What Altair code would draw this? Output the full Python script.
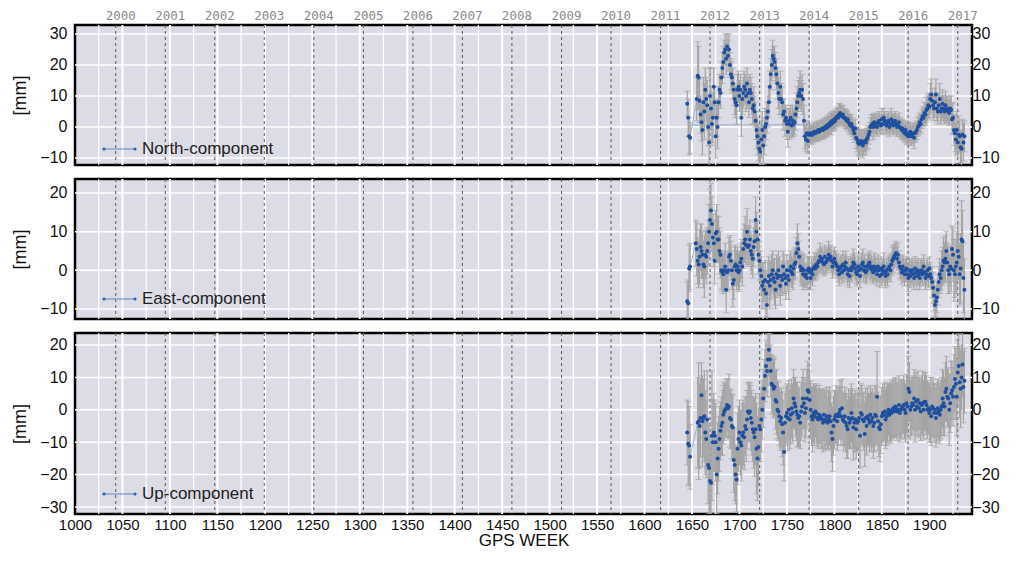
import altair as alt
import pandas as pd

# ---------------- data (GPS week of segment start, weekly values in mm, error half-widths in mm) -------------
north_starts = [1645, 1655, 1663, 1673, 1680, 1694, 1718, 1731, 1743, 1760, 1769, 1774, 1790, 1811, 1818,
                1836, 1846, 1871, 1889, 1903, 1926]
north_values = [
    [7.5, 3, -3, -3.5],
    [9, 16.5, 16, 8.5, 4, 1.5, -1, 8],
    [5, 12, 9, 7, 0, -5, 10, 6, 1, 3],
    [13, 8, -3, 3, 0, 8, 12],
    [11, 16, 19, 21, 24, 25, 22, 26, 23, 25, 20, 17, 16, 14],
    [12, 9, 8, 7, 12, 13, 10, 12, 3, 9, 11, 13, 12, 10, 14, 11, 8, 12, 11, 9, 6, 7, 5, 2],
    [-1, -3, -5, -7, -8, -4, -1, -6, -3, 0, 1, 3, 5],
    [8, 13, 17, 20, 23, 22, 21, 19, 17, 14, 11, 9],
    [13, 9, 8, 4, 5, 2, 3, 1, -1.5, 2, 1, 3, 0.5, 2, 1, 1.5, 4],
    [6, 8, 10, 11, 12, 10, 12, 9, 2],
    [-3, -4, -2, -4.5, -2.5],
    [-2, -2.5, -2, -2.5, -2, -1.5, -2, -1.5, -1.5, -1, -1.5, -1, -1, -0.5, -1, -0.5],
    [0, -0.5, 0.5, 0, 1, 0.5, 1.5, 1, 2, 1.5, 2.5, 2, 3, 3.5, 3, 4, 4.5, 4, 3.5, 4, 3],
    [3, 2.5, 2, 2.5, 1.5, 1, 0.5],
    [1, 0, -1, -2, -0.5, -3.5, -4, -5, -5.5, -5, -4.5, -5, -6, -5, -4.5, -5, -4, -3.5],
    [-2.5, -1.5, 0, 0.5, 1, 0, 1.5, 0.5, 1, 0],
    [1.5, 2, 1, 0.5, 2.5, 1, 3, 2, 1, 0.5, 1.5, 2, 0, 1, 2.5, 1.5, 0.5, 1, 2, 1, 0, 0.5, 1.5, 0, -0.5],
    [-1, -0.5, -1.5, -2, -1, -2.5, -2, -3, -2, -1.5, -3, -2.5, -2, -3.5, -2, -1.5, -1, 0],
    [0.5, 1.5, 1, 2.5, 3.5, 3, 4.5, 4, 5.5, 6, 7, 6.5, 9, 10.5],
    [8.5, 7, 6, 8, 10.5, 6, 5, 7, 9, 5, 6, 7.5, 6, 5, 7, 5.5, 6, 5, 4.5, 6, 5.5, 2.5, 3],
    [-1, -2, -4, -1, -5, -2.5, -3, -6.5, -7, -2.5, -5, -3],
]
north_errors = [
    [4, 6, 6, 5],
    [7, 11, 10, 7, 6, 6, 8, 8],
    [9, 7, 7, 8, 6, 9, 9, 7, 7, 8],
    [6, 5, 7, 6, 7, 5, 5],
    [5, 5, 5, 5, 4, 5, 5, 4, 5, 5, 4, 5, 5, 5],
    [5, 5, 5, 6, 5, 5, 5, 5, 6, 5, 5, 5, 5, 5, 5, 5, 5, 5, 5, 5, 5, 6, 5, 6],
    [6, 6, 6, 7, 6, 6, 6, 6, 6, 6, 5, 5, 5],
    [5, 5, 5, 5, 5, 4, 5, 5, 5, 5, 5, 5],
    [5, 5, 5, 5, 4, 5, 4, 5, 5, 4, 5, 4, 4, 5, 4, 4, 5],
    [5, 5, 5, 5, 6, 5, 5, 5, 5],
    [4, 4, 4, 4, 3],
    [3, 3, 2.5, 3, 3, 3, 2.5, 3, 3, 3, 3, 2.5, 3, 3, 3, 3],
    [3, 3, 3, 3, 3, 3, 3, 3.5, 3, 3, 3, 3, 3, 3, 3, 3.5, 3, 3, 3, 3, 3],
    [3, 3, 3, 3, 3, 3, 3],
    [3, 3, 3, 3, 3, 3.5, 4, 4, 4, 4, 3.5, 4, 4, 4, 3.5, 4, 3.5, 3.5],
    [3, 3, 3, 3.5, 3, 4, 3, 3, 3, 3],
    [3, 3, 3, 3, 3.5, 3, 3, 3, 3, 3, 3, 3, 3, 3, 3.5, 3, 3, 3, 3, 3, 3, 3, 3, 3, 3],
    [3, 3, 3, 3, 3, 3, 3.5, 3, 3, 3, 3, 3, 3, 3.5, 3, 3, 3, 3],
    [3, 3, 3, 3, 3, 3, 3.5, 3.5, 4, 4, 4, 4, 5, 5],
    [4, 4, 4, 4.5, 5, 4, 4, 4, 5, 4, 4, 4.5, 4, 4, 4.5, 4, 4, 4, 4, 4, 4.5, 5, 5],
    [5, 6, 5, 6, 5, 6, 5, 5, 6, 5, 6, 5],
]

east_starts = [1645, 1654, 1659, 1667, 1673, 1680, 1690, 1704, 1722, 1743, 1759, 1769, 1790, 1804, 1818,
               1836, 1861, 1875, 1903, 1913, 1924]
east_values = [
    [-8, -8.5, 0.5, 1],
    [7, 5.5, 2.5, 1.5, 3.5],
    [6, 5, 4, 1.5, 1, 4, 3.5, 5],
    [7, 10, 13, 15.5, 12, 8.5],
    [7, 2.5, 9.5, 10, 8, 8, 5],
    [4, 0, -0.5, -1, 0, 1, -5, -0.5, 0, 3.5],
    [4, 2.5, 0, -3.5, -2.5, 1, 1.5, 0, 1, -0.5, 0, 2, 3, 1],
    [5.5, 7, 8, 6.5, 10, 6, 6.5, 8, 5, 4, 3, 6, 7.5, 13, 10, 8, 4, 2.5],
    [0, -1.5, -4, -3, -5, -2.5, -6, -9, -3, -1.5, -4, -2.5, -1, 0, -2, -3, -5, -1, -2, 0, -1.5],
    [-4, -1.5, -2.5, 1, -1, -2, -3.5, 0, -1.5, -2.5, 0, 1, -0.5, -1, 0.5, 1.5],
    [2, 4.5, 7, 5.5, 3.5, 1, 0, 0.5, -1, 0],
    [-1.5, -1, -2, 0, 0.5, -0.5, -2, 0, -1, 0.5, 1, 0.5, 1.5, 1, 2, 2.5, 3.5, 2.5, 3, 2, 1.5],
    [3.5, 2, 2.5, 3, 4, 3, 3.5, 2.5, 1, 2, 3, 2, 1.5, 1],
    [0, -1, 0.5, 1, -0.5, 1.5, 0, 1, 2, 0.5, -1, 0, -1.5, 0.5],
    [0, 1, 2, 1.5, 0.5, -0.5, -1, 1, 0, -1.5, 0.5, 1.5, 2, 0, 1, -0.5, 0, 1],
    [1.5, 2, 0.5, 1, 0, -0.5, 1, 0.5, 0, -1, 1, 0, -1.5, 0.5, -1, 0, 1, -0.5, -1.5, 0, -1, 0.5, 1, 0, 1.5],
    [2.5, 3, 3.5, 4, 4.5, 3, 4, 2, 1, 0.5, -0.5, 1, 0, -1],
    [0, 0.5, -1, -2, 0, -1.5, -0.5, 0, -1, -2, 0.5, -0.5, -1.5, 0, -1, -2, -0.5, 0, -1, 1, -0.5, -2, -1, 0,
     -1.5, 0.5, -1, -2],
    [-3, -4.5, -6.5, -9, -8, -7, -5, -3, -1, -2],
    [0, 1, 2.5, 2, 3, 5, 2, 0, -1, 1, 0.5],
    [5.5, 4, 0, -1, 1, 2, 5, 3.5, -1, 0.5, 8, 7.5, -2, -5],
]
east_errors = [
    [5, 6, 6, 6],
    [6, 7, 6, 6, 7],
    [6, 7, 6, 6, 8, 6, 7, 6],
    [6, 7, 8, 7, 7, 6],
    [6, 6, 6, 7, 6, 6, 6],
    [6, 5, 5, 5, 5, 6, 6, 5, 5, 5],
    [5, 5, 5, 6, 5, 5, 5, 5, 5, 5, 5, 5, 5, 5],
    [5, 5, 6, 5, 6, 5, 5, 5, 5, 5, 5, 5, 5, 6, 5, 5, 5, 5],
    [5, 5, 6, 5, 5, 5, 6, 5, 5, 5, 6, 5, 5, 5, 5, 6, 5, 5, 5, 5, 5],
    [5, 4, 4, 4, 5, 4, 4, 4, 4, 5, 4, 4, 4, 4, 4, 4],
    [4, 4, 5, 4, 4, 4, 4, 4, 4, 4],
    [3, 3, 3, 3.5, 3, 3, 3, 3, 3, 3, 3.5, 3, 3, 3, 3, 3, 3.5, 3, 3, 3, 3],
    [3, 3, 3, 3, 3.5, 3, 3, 3, 3, 3, 3, 3, 3, 3],
    [3, 3, 3, 3, 3, 3.5, 3, 3, 3, 3, 3, 3, 3, 3],
    [3, 3, 3.5, 3, 3, 3, 3, 3, 3, 3, 3, 3, 3.5, 3, 3, 3, 3, 3],
    [3, 3, 3, 3, 3, 3, 3.5, 3, 3, 3, 3, 3, 3, 3, 3, 3, 3.5, 3, 3, 3, 3, 3, 3, 3, 3],
    [3.5, 3.5, 3, 3, 3, 3, 3, 3, 3, 3, 3, 3, 3, 3],
    [3, 3, 3, 3.5, 3, 3, 3, 3, 3, 3, 3, 3, 3.5, 3, 3, 3, 3, 3, 3, 3, 3, 3, 3, 3, 3, 3, 3, 3],
    [4, 4, 4, 4, 4, 4, 4, 4, 4, 4],
    [5, 5, 6, 5, 6, 5, 5, 6, 5, 5, 6],
    [6, 7, 8, 6, 7, 8, 7, 6, 8, 9, 10, 8, 9, 8],
]

up_starts = [1645, 1656, 1662, 1667, 1673, 1681, 1694, 1704, 1711, 1724, 1732, 1743, 1757, 1771, 1785,
             1796, 1808, 1825, 1843, 1861, 1878, 1896, 1913, 1927]
up_values = [
    [-7, -10.5, -11, -14.5],
    [-4, -3.5, -5, -2.5, 4.5, -3.5],
    [-2.5, -2, -7, -9, -3],
    [-17, -18, -22, -22.5, -8, -10],
    [-7, -8, -10, -20, -15, -12, -9, -6.5],
    [-5, -4, -1.5, -0.5, 0, 0.5, 1.5, 0.5, 1, -2.5, -3, -5, -5.5],
    [-15.5, -17, -20, -21.5, -12, -9, -7, -10, -11, -8],
    [-7, -8.5, -5, -6, -3, -0.5, -1],
    [-0.5, -2.5, -4, -6, -7, -8.5, -6, -12, -15, -11.5, -5, -6, -3],
    [0, 3.5, 6.5, 10.5, 13.5, 12, 15.5, 18.5],
    [15.5, 12, 8, 7.5, 6.5, 7, 3, 2.5, 0, -0.5, -2],
    [-3.5, -2.5, -4.5, -7, -13, -4, -2, -1, -2.5, 0, -3, -1.5, 0.5, -1],
    [3.5, 2, 1, -0.5, -1.5, -2.5, -2, -4, -0.5, 1, 3.5, 2, -1, 0.5],
    [3.5, 6, 5.5, 3, 0, -2, -3, -1, -2, -0.5, -1, -2.5, -3, -1.5],
    [-2, -2.5, -3, -4, -1.5, -3, -3.5, -2, -4, -3, -2],
    [-3.5, -7, -9, -5, -3, -2, -1.5, -3.5, -2, -1, 0, -2],
    [0.5, -3, -3.5, -2, -4, -5, -6, -2.5, -4, -3, -1, -2.5, -5.5, -4, -3, -6, -4],
    [-3.5, -2.5, -8, -1, -1.5, -3, -3.5, -7.5, -2.5, -5, -2, -3, -4, -1.5, -3.5, -2.5, -5, -4],
    [-1.5, -2, 4, -3.5, -5.5, -6, -4.5, -2, -1, -1.5, -0.5, -3, -2, -1, 0, -1.5, -0.5, -1],
    [0, 0.5, -0.5, 1, 0.5, -0.5, 0, 1.5, -1, 0, 0.5, 1, 1.5, 0, -1, 2, 1],
    [6.5, 5.5, 0, 1, 2, 1.5, 3.5, 0, 2.5, 1, 3, 0.5, 2, -0.5, 1.5, 2, 0, 2.5],
    [2.5, 1.5, 0, 0.5, -1, 0, -2, 1, 0.5, -1, 0, -2.5, -1, 0.5, -0.5, -1.5, 0],
    [1, 3.5, 2, 1, 5.5, 6.5, 4, 3.5, 0, 2, 5, 6, 4, 7],
    [9.5, 8, 4, 11.5, 13.5, 8.5, 6.5, 10, 14, 7, 9],
]
up_errors = [
    [10, 13, 12, 10],
    [14, 18, 13, 12, 10, 14],
    [12, 14, 13, 12, 15],
    [12, 14, 13, 12, 20, 13],
    [12, 11, 12, 12, 11, 10, 10, 9],
    [9, 10, 9, 9, 8, 9, 8, 9, 10, 9, 9, 10, 10],
    [10, 11, 9, 10, 11, 10, 10, 10, 11, 10],
    [10, 10, 9, 10, 9, 9, 9],
    [9, 10, 10, 10, 11, 12, 11, 14, 13, 12, 10, 10, 10],
    [9, 9, 9, 8, 8, 8, 8, 8],
    [8, 8, 9, 9, 9, 9, 9, 10, 9, 9, 9],
    [9, 9, 10, 10, 9, 9, 9, 9, 10, 9, 9, 9, 9, 9],
    [9, 8, 9, 9, 10, 9, 9, 8, 9, 9, 9, 8, 9, 9],
    [9, 9, 8, 9, 9, 9, 10, 9, 9, 8, 9, 9, 9, 9],
    [8, 9, 9, 9, 8, 9, 9, 9, 8, 9, 9],
    [9, 9, 10, 9, 9, 8, 9, 9, 9, 8, 9, 9],
    [9, 8, 9, 9, 9, 10, 9, 9, 8, 9, 9, 9, 10, 9, 9, 9, 9],
    [9, 9, 10, 9, 9, 8, 9, 10, 9, 9, 9, 8, 9, 9, 9, 9, 10, 9],
    [9, 9, 14, 9, 9, 10, 9, 9, 9, 8, 9, 9, 9, 9, 8, 9, 9, 9],
    [9, 9, 8, 9, 9, 9, 8, 9, 9, 9, 9, 8, 9, 9, 9, 9, 9],
    [10, 9, 9, 9, 8, 9, 9, 10, 9, 9, 9, 9, 8, 9, 9, 10, 9, 9],
    [9, 9, 9, 8, 9, 10, 9, 9, 9, 9, 8, 9, 9, 9, 9, 9, 9],
    [9, 9, 10, 9, 9, 10, 9, 9, 11, 9, 10, 9, 9, 10],
    [10, 11, 12, 10, 10, 11, 12, 10, 10, 11, 10],
]

north_flat_weeks = [1648, 1773]
north_flat_value = [0.7]

year_labels = [str(y) for y in range(2000, 2018)]
year_weeks = [1042.9, 1095.1, 1147.3, 1199.4, 1251.6, 1303.9, 1356.0, 1408.1, 1460.3,
              1512.6, 1564.7, 1616.9, 1669.0, 1721.3, 1773.4, 1825.6, 1877.7, 1930.0]

x_label_ticks = list(range(1000, 1901, 50))
x_grid_major = list(range(1050, 1926, 50))
x_grid_minor = list(range(1025, 1926, 50))

north_ticks = [-10, 0, 10, 20, 30]
east_ticks = [-10, 0, 10, 20]
up_ticks = [-30, -20, -10, 0, 10, 20]

# ---------------- build tables ----------------
def build(starts, values, errors):
    rows = []
    for s, vals, errs in zip(starts, values, errors):
        for i, (v, e) in enumerate(zip(vals, errs)):
            rows.append({"week": s + i, "value": v, "lo": v - e, "hi": v + e})
    return pd.DataFrame(rows)


years_df = pd.DataFrame({"week": year_weeks, "label": year_labels})
FONT = "Liberation Sans"
X_DOMAIN = [1000, 1945]
PLOT_W = 897


def panel(df, name, ydom, yticks, height, legend_y, top_labels=False, bottom=False, flat=None):
    xs = alt.Scale(domain=X_DOMAIN, nice=False, zero=False)
    ys = alt.Scale(domain=ydom, nice=False, zero=False)
    if bottom:
        xaxis = alt.Axis(values=x_label_ticks, format="d", grid=False, ticks=False, tickSize=0, domain=False,
                         labelFlush=False, labelOverlap=False, labelFontSize=15, labelFont=FONT,
                         labelColor="#111", labelPadding=3, title="GPS WEEK", titleFont=FONT,
                         titleFontSize=17, titleFontWeight="normal", titleColor="#111", titlePadding=0)
    else:
        xaxis = None

    def X(field="week"):
        return alt.X(f"{field}:Q", scale=xs, axis=xaxis)

    left_axis = alt.Axis(values=yticks, grid=False, ticks=False, tickSize=0, domain=False, labelFontSize=16,
                         labelFont=FONT, labelColor="#111", labelPadding=8, labelAlign="right",
                         title="[mm]", titleFont=FONT, titleFontSize=18, titleFontWeight="normal",
                         titleColor="#111", titlePadding=10, orient="left")
    right_axis = alt.Axis(values=yticks, grid=False, ticks=False, tickSize=0, domain=False, labelFontSize=16,
                          labelFont=FONT, labelColor="#111", labelPadding=0, labelAlign="left",
                          title=None, orient="right")

    xgrid_major = alt.Chart(pd.DataFrame({"week": x_grid_major})).mark_rule(
        color="white", strokeWidth=2).encode(x=X())
    xgrid_minor = alt.Chart(pd.DataFrame({"week": x_grid_minor})).mark_rule(
        color="white", strokeWidth=1.2).encode(x=X())
    ygrid = alt.Chart(pd.DataFrame({"v": yticks})).mark_rule(
        color="white", strokeWidth=1.5, clip=True).encode(
        y=alt.Y("v:Q", scale=ys, axis=left_axis))
    years = alt.Chart(years_df).mark_rule(
        color="#5a5a5a", strokeWidth=1, strokeDash=[3, 3]).encode(x=X())

    layers = [xgrid_minor, xgrid_major, ygrid, years]

    if flat is not None:
        fdf = pd.DataFrame({"w0": [flat[0][0]], "w1": [flat[0][1]], "v": flat[1]})
        layers.append(alt.Chart(fdf).mark_rule(color="#9fb3cf", strokeWidth=1.2, clip=True).encode(
            x=X("w0"), x2="w1:Q", y=alt.Y("v:Q", scale=ys, axis=None)))

    base = alt.Chart(df)
    layers.append(base.mark_line(color="#93b4e0", strokeWidth=1, clip=True).encode(
        x=X(), y=alt.Y("value:Q", scale=ys, axis=None)))
    layers.append(base.mark_rule(color="#a4a4a4", strokeWidth=1.2, clip=True).encode(
        x=X(), y=alt.Y("lo:Q", scale=ys, axis=None), y2="hi:Q"))
    layers.append(base.mark_tick(color="#a4a4a4", size=6, thickness=1, orient="horizontal", clip=True).encode(
        x=X(), y=alt.Y("lo:Q", scale=ys, axis=None)))
    layers.append(base.mark_tick(color="#a4a4a4", size=6, thickness=1, orient="horizontal", clip=True).encode(
        x=X(), y=alt.Y("hi:Q", scale=ys, axis=None)))
    layers.append(base.mark_circle(color="#1f4f9f", size=16, opacity=1, clip=True).encode(
        x=X(), y=alt.Y("value:Q", scale=ys, axis=right_axis)))

    leg = alt.Chart(pd.DataFrame({"label": [name]}))
    layers.append(leg.mark_rule(color="#5b85c6", strokeWidth=1).encode(
        x=alt.value(29), x2=alt.value(60), y=alt.value(legend_y)))
    layers.append(leg.mark_circle(color="#2f5fae", size=10, opacity=1).encode(
        x=alt.value(29), y=alt.value(legend_y)))
    layers.append(leg.mark_circle(color="#2f5fae", size=10, opacity=1).encode(
        x=alt.value(60), y=alt.value(legend_y)))
    layers.append(leg.mark_text(align="left", baseline="middle", font=FONT, fontSize=17,
                                color="#222").encode(
        x=alt.value(67), y=alt.value(legend_y), text="label:N"))

    if top_labels:
        layers.append(alt.Chart(years_df).mark_text(
            dx=5, baseline="middle", align="center", font="DejaVu Sans Mono", fontSize=12.5,
            color="#8a8a8a").encode(x=X(), y=alt.value(-9), text="label:N"))

    return alt.layer(*layers).resolve_axis(y="independent").properties(width=PLOT_W, height=height)


north_df = build(north_starts, north_values, north_errors)
east_df = build(east_starts, east_values, east_errors)
up_df = build(up_starts, up_values, up_errors)

p1 = panel(north_df, "North-component", [-12.26, 32.9], north_ticks, 140, 124, top_labels=True,
           flat=(north_flat_weeks, north_flat_value))
p2 = panel(east_df, "East-component", [-12.59, 23.62], east_ticks, 140, 120)
p3 = panel(up_df, "Up-component", [-32.16, 23.7], up_ticks, 181, 161, bottom=True)

chart = alt.vconcat(p1, p2, p3, spacing=14, bounds="flush").properties(
    padding={"left": 2, "top": 0, "right": 0, "bottom": 0},
    background="white",
).configure_view(stroke="black", strokeWidth=2.5, fill="#dcdce6")

chart.save("out.html", embed_options={"renderer": "svg", "actions": False})
